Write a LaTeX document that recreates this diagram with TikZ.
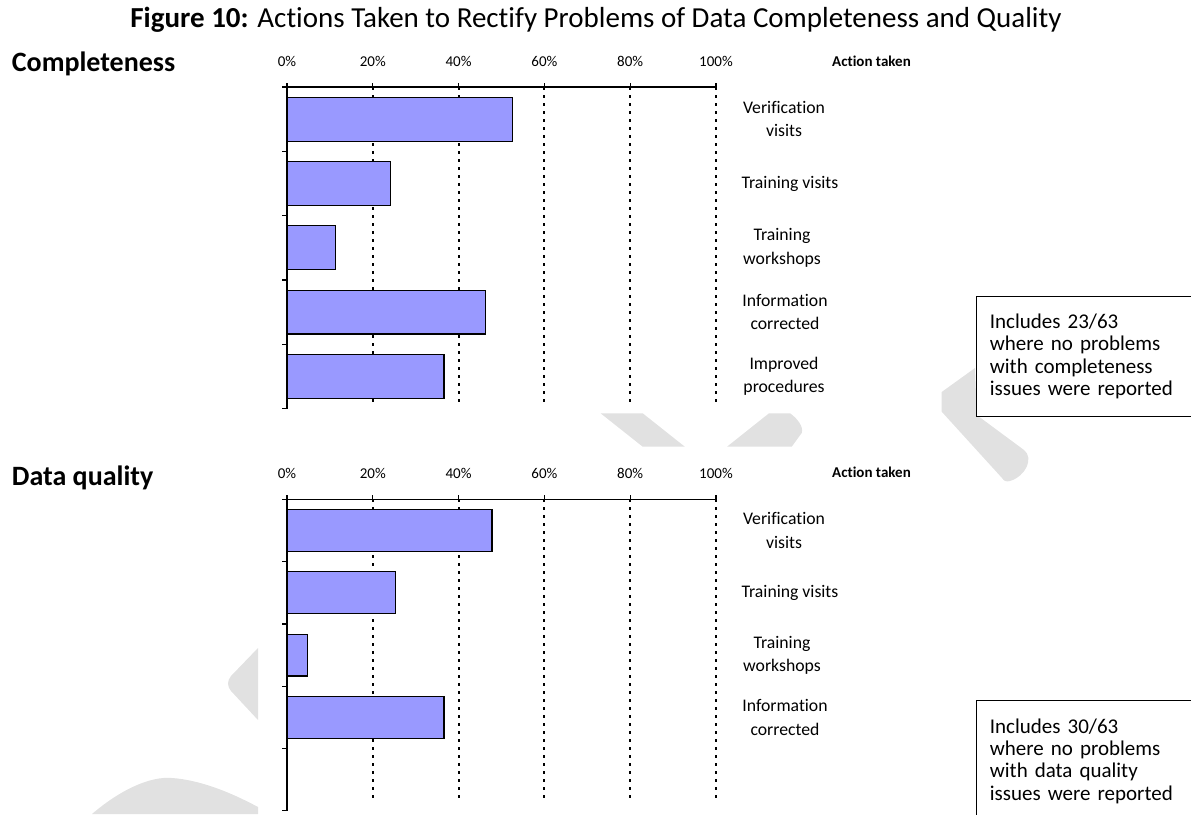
\documentclass[tikz,border=0pt]{standalone}
\usepackage{fontspec}
\setmainfont{Carlito}[Ligatures=NoCommon]
\usepackage{xcolor}
\usetikzlibrary{positioning}
\definecolor{barblue}{HTML}{9999FF}
\definecolor{wmgray}{HTML}{E1E1E1}
\tikzset{
  bar/.style={draw=black, line width=1.2pt, fill=barblue},
  gridline/.style={line width=1.9pt, dash pattern=on 3pt off 5pt},
  axisline/.style={line width=1.2pt},
  pct/.style={font=\fontsize{15}{18}\selectfont},
  actlabel/.style={font=\fontsize{15}{18}\selectfont\bfseries},
  catlabel/.style={font=\fontsize{17.7}{23.4}\selectfont, align=center},
  heading/.style={font=\fontsize{28}{34}\selectfont\bfseries, anchor=base west, inner sep=0pt},
  notebox/.style={draw, fill=white, line width=1.2pt, anchor=north west, align=left,
    text width=200pt, inner xsep=13.6pt, font=\fontsize{21}{22.3}\selectfont}
}

\begin{document}
\begin{tikzpicture}[x=1pt, y=-1pt]
    \useasboundingbox (0,0) rectangle (1191,814);
    % watermark pieces
    \fill[wmgray] (258,648) -- (231,676) .. controls (227,681) and (227,686) .. (231,691) -- (258,720) -- cycle;
    \fill[wmgray] (92,814) .. controls (120,790) and (150,776) .. (172,778) .. controls (200,780) and (230,792) .. (258,807) -- (258,814) -- cycle;
    \fill[wmgray] (600.6,413.3) -- (642.7,413.3) -- (684.8,446.7) -- (642.7,446.7) -- cycle;
    \fill[wmgray] (727,446.7) -- (769,413.3) -- (790,413.3) .. controls (797,418) and (804,427) .. (801.7,433) -- (791.7,446.7) -- cycle;
    \fill[wmgray] (941.7,392) -- (975,368) -- (976.7,415) -- (1024,450) .. controls (1034,458) and (1026,476) .. (1010,481) .. controls (1006,482) and (1004,481) .. (1002,478) -- (941.7,411.7) -- cycle;

    \node[font=\fontsize{29}{34}\selectfont, anchor=base] (title) at (596,27) {\textbf{Figure 10:} Actions Taken to Rectify Problems of Data Completeness and Quality};

    % completeness chart
    \node[heading] (compl) at (11.7,71.7) {Completeness};
    \foreach \k in {1,...,5}
        \draw[gridline] ({287+85.8*\k},87) -- ({287+85.8*\k},401.7);
    \foreach \v [count=\i] in {52.5,24.1,11.3,46.2,36.6}
        \filldraw[bar] (287,{87+64.3*(\i-1)+10.2}) rectangle ({287+4.29*\v},{87+64.3*\i-10.2});
    \draw[axisline] (282,87) -- (716,87);
    \draw[axisline] (287,87) -- (287,408.5);
    \foreach \k in {0,...,5}
        \draw[axisline] ({287+85.8*\k},83) -- ({287+85.8*\k},89.5);
    \foreach \i in {1,...,5}
        \draw[axisline] (282,{87+64.3*\i}) -- (287,{87+64.3*\i});
    \foreach \p [count=\k from 0] in {0,20,40,60,80,100}
        \node[pct] (cpct\k) at ({287+85.8*\k},61.7) {\p\%};
    \node[actlabel] (cact) at (871.5,61.7) {Action taken};
    \foreach \x/\t [count=\i] in {784/{Verification\\visits},790/{Training visits},782/{Training\\workshops},785/{Information\\corrected},784/{Improved\\procedures}}
        \node[catlabel] (ccat\i) at (\x,{87+64.3*\i-32.15}) {\t};
    \node[notebox, minimum height=119.7pt] (cnote) at (975.7,296) {Includes 23/63\\where no problems\\with completeness\\issues were reported};

    % data quality chart
    \node[heading] (qual) at (11.7,485) {Data quality};
    \foreach \k in {1,...,5}
        \draw[gridline] ({287+85.8*\k},499.3) -- ({287+85.8*\k},801.7);
    \foreach \v [count=\i] in {47.8,25.2,4.7,36.6}
        \filldraw[bar] (287,{499.3+62.3*(\i-1)+10.2}) rectangle ({287+4.29*\v},{499.3+62.3*\i-10.2});
    \draw[axisline] (282,499.3) -- (716,499.3);
    \draw[axisline] (287,499.3) -- (287,810.8);
    \foreach \k in {0,...,5}
        \draw[axisline] ({287+85.8*\k},495.3) -- ({287+85.8*\k},501.8);
    \foreach \i in {1,...,5}
        \draw[axisline] (282,{499.3+62.3*\i}) -- (287,{499.3+62.3*\i});
    \foreach \p [count=\k from 0] in {0,20,40,60,80,100}
        \node[pct] (qpct\k) at ({287+85.8*\k},473.3) {\p\%};
    \node[actlabel] (qact) at (871.5,472.3) {Action taken};
    \foreach \x/\t [count=\i] in {784/{Verification\\visits},790/{Training visits},782/{Training\\workshops},785/{Information\\corrected}}
        \node[catlabel] (qcat\i) at (\x,{499.3+62.3*\i-31.15}) {\t};
    \node[notebox, minimum height=121pt] (qnote) at (975.7,700) {Includes 30/63\\where no problems\\with data quality\\issues were reported};
\end{tikzpicture}
\end{document}
